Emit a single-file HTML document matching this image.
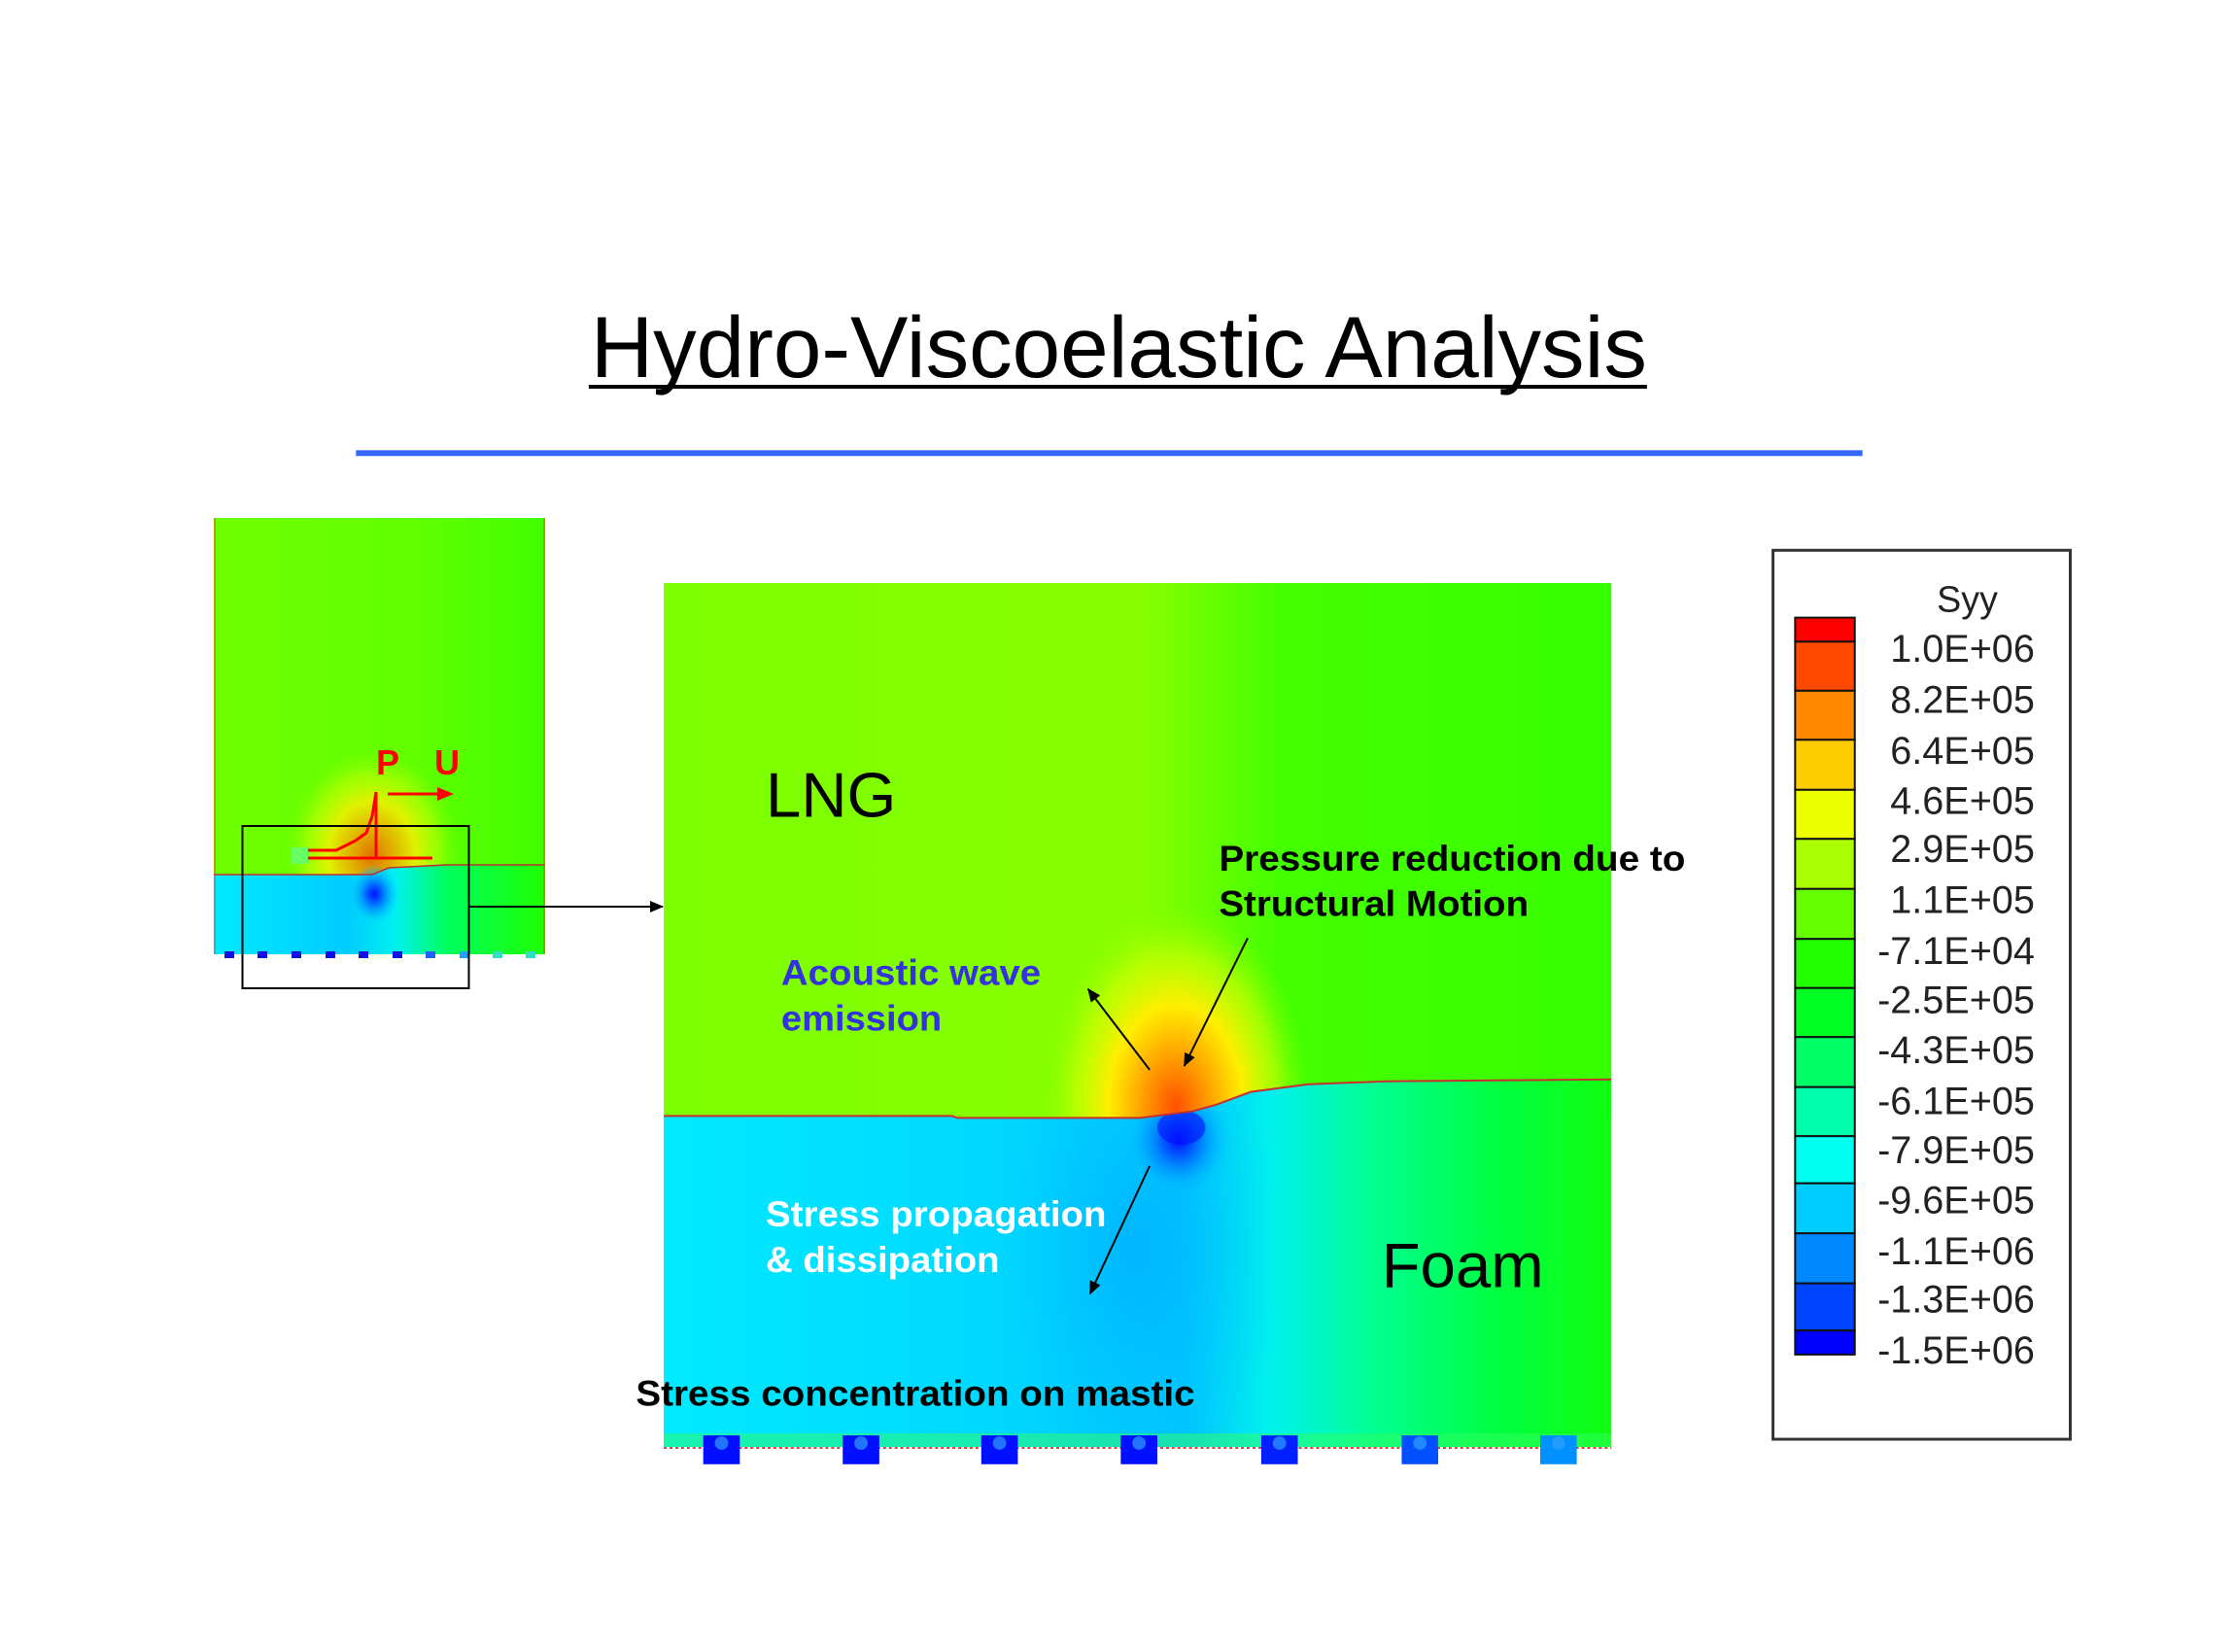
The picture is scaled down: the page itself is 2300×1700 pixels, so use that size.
<!DOCTYPE html>
<html><head><meta charset="utf-8">
<style>
html,body{margin:0;padding:0;background:#fff;}
svg{display:block;}
</style></head>
<body>
<svg width="2300" height="1700" viewBox="0 0 2300 1700" xmlns="http://www.w3.org/2000/svg" font-family="Liberation Sans, Arial, sans-serif">
<defs>
  <linearGradient id="lng" x1="0" y1="0" x2="1" y2="0">
    <stop offset="0" stop-color="#7cff00"/>
    <stop offset="0.5" stop-color="#88ff00"/>
    <stop offset="0.65" stop-color="#44ff00"/>
    <stop offset="1" stop-color="#38ff00"/>
  </linearGradient>
  <radialGradient id="hot" cx="0.5" cy="0.5" r="0.5">
    <stop offset="0" stop-color="#ff5000"/>
    <stop offset="0.15" stop-color="#ff8000"/>
    <stop offset="0.3" stop-color="#ffb000"/>
    <stop offset="0.5" stop-color="#ffee00"/>
    <stop offset="0.75" stop-color="#c8ff00" stop-opacity="0.7"/>
    <stop offset="1" stop-color="#88ff00" stop-opacity="0"/>
  </radialGradient>
  <linearGradient id="foam" x1="0" y1="0" x2="1" y2="0">
    <stop offset="0" stop-color="#00eaff"/>
    <stop offset="0.35" stop-color="#00d8ff"/>
    <stop offset="0.55" stop-color="#00c4ff"/>
    <stop offset="0.64" stop-color="#00f0ee"/>
    <stop offset="0.75" stop-color="#00ff90"/>
    <stop offset="0.88" stop-color="#00ff40"/>
    <stop offset="1" stop-color="#10ff10"/>
  </linearGradient>
  <radialGradient id="cold" cx="0.5" cy="0.5" r="0.5">
    <stop offset="0" stop-color="#0010ff"/>
    <stop offset="0.3" stop-color="#0060ff"/>
    <stop offset="0.7" stop-color="#00a8ff" stop-opacity="0.6"/>
    <stop offset="1" stop-color="#00c8ff" stop-opacity="0"/>
  </radialGradient>
  <radialGradient id="soft" cx="0.5" cy="0.5" r="0.5">
    <stop offset="0" stop-color="#00b0ff" stop-opacity="0.8"/>
    <stop offset="1" stop-color="#00c8ff" stop-opacity="0"/>
  </radialGradient>
  <linearGradient id="lngS" x1="0" y1="0" x2="1" y2="0">
    <stop offset="0" stop-color="#70ff00"/>
    <stop offset="0.6" stop-color="#60ff00"/>
    <stop offset="1" stop-color="#40ff00"/>
  </linearGradient>
  <linearGradient id="foamS" x1="0" y1="0" x2="1" y2="0">
    <stop offset="0" stop-color="#00eaff"/>
    <stop offset="0.4" stop-color="#00ccff"/>
    <stop offset="0.55" stop-color="#00f0f0"/>
    <stop offset="0.7" stop-color="#00ff60"/>
    <stop offset="1" stop-color="#20ff00"/>
  </linearGradient>
  <clipPath id="foamClip">
    <path d="M690,1160 L990,1160 L995,1162 L1185,1162 L1240,1155 L1265,1148 L1300,1135 L1360,1127 L1440,1124 L1675,1122 L1675,1504 L690,1504 Z"/>
  </clipPath>
  <clipPath id="lngClip">
    <path d="M690,606 L1675,606 L1675,1122 L1440,1124 L1360,1127 L1300,1135 L1265,1148 L1240,1155 L1185,1162 L690,1162 Z"/>
  </clipPath>
  <marker id="ah" markerWidth="14" markerHeight="14" refX="13" refY="7" orient="auto" markerUnits="userSpaceOnUse">
    <path d="M0,1 L14,7 L0,13 z" fill="#000"/>
  </marker>
</defs>

<!-- Small model -->
<rect x="220" y="533" width="341" height="367" fill="url(#lngS)"/>
<ellipse cx="383" cy="880" rx="90" ry="110" fill="url(#hot)" opacity="0.8"/>
<path d="M220,900 L383,900 L400,893 L460,890 L561,890 L561,982 L220,982 Z" fill="url(#foamS)"/>
<ellipse cx="385" cy="920" rx="25" ry="30" fill="url(#cold)"/>
<path d="M220,900 L383,900 L400,893 L460,890 L561,890" stroke="#c03030" stroke-width="1.5" fill="none"/>
<line x1="221" y1="533" x2="221" y2="982" stroke="#e04040" stroke-width="1"/>
<line x1="560" y1="533" x2="560" y2="982" stroke="#e04040" stroke-width="1"/>
<g fill="#1010e0">
  <rect x="231" y="979" width="10" height="7"/><rect x="265" y="979" width="10" height="7"/><rect x="300" y="979" width="10" height="7"/><rect x="335" y="979" width="10" height="7"/><rect x="369" y="979" width="10" height="7"/><rect x="404" y="979" width="10" height="7"/><rect x="438" y="979" width="10" height="7" fill="#2060ff"/><rect x="473" y="979" width="10" height="7" fill="#20a0ff"/><rect x="507" y="979" width="10" height="7" fill="#30e0c0"/><rect x="541" y="979" width="10" height="7" fill="#30e0c0"/>
</g>
<rect x="300" y="872" width="17" height="17" fill="#66ff66"/>
<g stroke="#ff0000" stroke-width="3" fill="none">
  <path d="M317,875 L346,875 L366,865 L377,857 L383,840 L387,815"/>
  <path d="M317,883 L445,883"/>
  <path d="M387,815 L387,883"/>
  <path d="M399,817 L452,817"/>
</g>
<path d="M450,810 L467,817 L450,824 z" fill="#ff0000"/>
<text x="399" y="797" font-size="36" font-weight="bold" fill="#ff0000" text-anchor="middle">P</text>
<text x="460" y="797" font-size="36" font-weight="bold" fill="#ff0000" text-anchor="middle">U</text>
<rect x="249.5" y="850" width="233" height="167" fill="none" stroke="#000" stroke-width="2"/>
<line x1="483" y1="933" x2="682" y2="933" stroke="#000" stroke-width="2" marker-end="url(#ah)"/>

<g transform="scale(0.99)">
<!-- Title -->
<text x="1163" y="392" font-size="90" text-anchor="middle" textLength="1098" lengthAdjust="spacingAndGlyphs">Hydro-Viscoelastic Analysis</text>
<rect x="612" y="400" width="1100" height="4" fill="#000"/>
<rect x="370" y="468" width="1566" height="6" fill="#3366ff"/>

<!-- Main model -->
<rect x="690" y="606" width="985" height="556" fill="url(#lng)"/>
<g clip-path="url(#lngClip)">
  <ellipse cx="1222" cy="1150" rx="140" ry="210" fill="url(#hot)"/>
</g>
<path d="M690,1160 L990,1160 L995,1162 L1185,1162 L1240,1155 L1265,1148 L1300,1135 L1360,1127 L1440,1124 L1675,1122 L1675,1504 L690,1504 Z" fill="url(#foam)"/>
<g clip-path="url(#foamClip)">
  <ellipse cx="1180" cy="1300" rx="150" ry="260" fill="url(#soft)"/>
  <ellipse cx="1225" cy="1185" rx="55" ry="60" fill="url(#cold)"/>
  <ellipse cx="1228" cy="1172" rx="25" ry="18" fill="#0010ff" opacity="0.6"/>
</g>
<path d="M690,1160 L990,1160 L995,1162 L1185,1162 L1240,1155 L1265,1148 L1300,1135 L1360,1127 L1440,1124 L1675,1122" stroke="#c83030" stroke-width="2" fill="none"/>
<rect x="690" y="1490" width="985" height="14" fill="#30ff60" opacity="0.5"/>
<line x1="690" y1="1505" x2="1675" y2="1505" stroke="#e04040" stroke-width="2" stroke-dasharray="3,3"/>
<g>
  <rect x="731" y="1492" width="38" height="30" fill="#0010ff"/>
  <rect x="876" y="1492" width="38" height="30" fill="#0010ff"/>
  <rect x="1020" y="1492" width="38" height="30" fill="#0010ff"/>
  <rect x="1165" y="1492" width="38" height="30" fill="#0010ff"/>
  <rect x="1311" y="1492" width="38" height="30" fill="#0020ff"/>
  <rect x="1457" y="1492" width="38" height="30" fill="#0050ff"/>
  <rect x="1601" y="1492" width="38" height="30" fill="#0090ff"/>
</g>
<g fill="#30a0ff" opacity="0.7">
  <circle cx="750" cy="1500" r="7"/><circle cx="895" cy="1500" r="7"/><circle cx="1039" cy="1500" r="7"/><circle cx="1184" cy="1500" r="7"/><circle cx="1330" cy="1500" r="7"/><circle cx="1476" cy="1500" r="7"/><circle cx="1620" cy="1500" r="7"/>
</g>

<!-- Labels -->
<text x="796" y="849" font-size="66">LNG</text>
<text x="1436" y="1338" font-size="66">Foam</text>
<text x="1267" y="905" font-size="37" font-weight="bold" textLength="485" lengthAdjust="spacingAndGlyphs">Pressure reduction due to</text>
<text x="1267" y="952" font-size="37" font-weight="bold" textLength="322" lengthAdjust="spacingAndGlyphs">Structural Motion</text>
<text x="812" y="1024" font-size="37" font-weight="bold" fill="#3333dd" textLength="270" lengthAdjust="spacingAndGlyphs">Acoustic wave</text>
<text x="812" y="1071" font-size="37" font-weight="bold" fill="#3333dd" textLength="167" lengthAdjust="spacingAndGlyphs">emission</text>
<text x="796" y="1275" font-size="37" font-weight="bold" fill="#ffffff" textLength="354" lengthAdjust="spacingAndGlyphs">Stress propagation</text>
<text x="796" y="1322" font-size="37" font-weight="bold" fill="#ffffff" textLength="243" lengthAdjust="spacingAndGlyphs">&amp; dissipation</text>
<text x="661" y="1461" font-size="37" font-weight="bold" textLength="581" lengthAdjust="spacingAndGlyphs">Stress concentration on mastic</text>

<g stroke="#000" stroke-width="2">
  <line x1="1195" y1="1112" x2="1131" y2="1028" marker-end="url(#ah)"/>
  <line x1="1297" y1="975" x2="1231" y2="1108" marker-end="url(#ah)"/>
  <line x1="1195" y1="1212" x2="1133" y2="1345" marker-end="url(#ah)"/>
</g>

<!-- Legend -->
<rect x="1843" y="572" width="309" height="924" fill="#fff" stroke="#333" stroke-width="3"/>
<g stroke="#111" stroke-width="2">
  <rect x="1866" y="642" width="62" height="25" fill="#ff0000"/>
  <rect x="1866" y="667" width="62" height="51" fill="#ff4800"/>
  <rect x="1866" y="718" width="62" height="51" fill="#ff8800"/>
  <rect x="1866" y="769" width="62" height="52" fill="#ffcc00"/>
  <rect x="1866" y="821" width="62" height="51" fill="#eeff00"/>
  <rect x="1866" y="872" width="62" height="52" fill="#aaff00"/>
  <rect x="1866" y="924" width="62" height="52" fill="#66ff00"/>
  <rect x="1866" y="976" width="62" height="51" fill="#22ff00"/>
  <rect x="1866" y="1027" width="62" height="51" fill="#00ff22"/>
  <rect x="1866" y="1078" width="62" height="52" fill="#00ff66"/>
  <rect x="1866" y="1130" width="62" height="51" fill="#00ffaa"/>
  <rect x="1866" y="1181" width="62" height="49" fill="#00ffee"/>
  <rect x="1866" y="1230" width="62" height="52" fill="#00ccff"/>
  <rect x="1866" y="1282" width="62" height="52" fill="#0088ff"/>
  <rect x="1866" y="1334" width="62" height="49" fill="#0044ff"/>
  <rect x="1866" y="1383" width="62" height="25" fill="#0000ff"/>
</g>
<g font-size="40" fill="#222" text-anchor="end">
  <text x="2045" y="636" text-anchor="middle" font-size="38">Syy</text>
  <text x="2115" y="688">1.0E+06</text>
  <text x="2115" y="741">8.2E+05</text>
  <text x="2115" y="794">6.4E+05</text>
  <text x="2115" y="846">4.6E+05</text>
  <text x="2115" y="896">2.9E+05</text>
  <text x="2115" y="949">1.1E+05</text>
  <text x="2115" y="1002">-7.1E+04</text>
  <text x="2115" y="1053">-2.5E+05</text>
  <text x="2115" y="1105">-4.3E+05</text>
  <text x="2115" y="1158">-6.1E+05</text>
  <text x="2115" y="1209">-7.9E+05</text>
  <text x="2115" y="1261">-9.6E+05</text>
  <text x="2115" y="1314">-1.1E+06</text>
  <text x="2115" y="1364">-1.3E+06</text>
  <text x="2115" y="1417">-1.5E+06</text>
</g>
</g>
</svg>
</body></html>
